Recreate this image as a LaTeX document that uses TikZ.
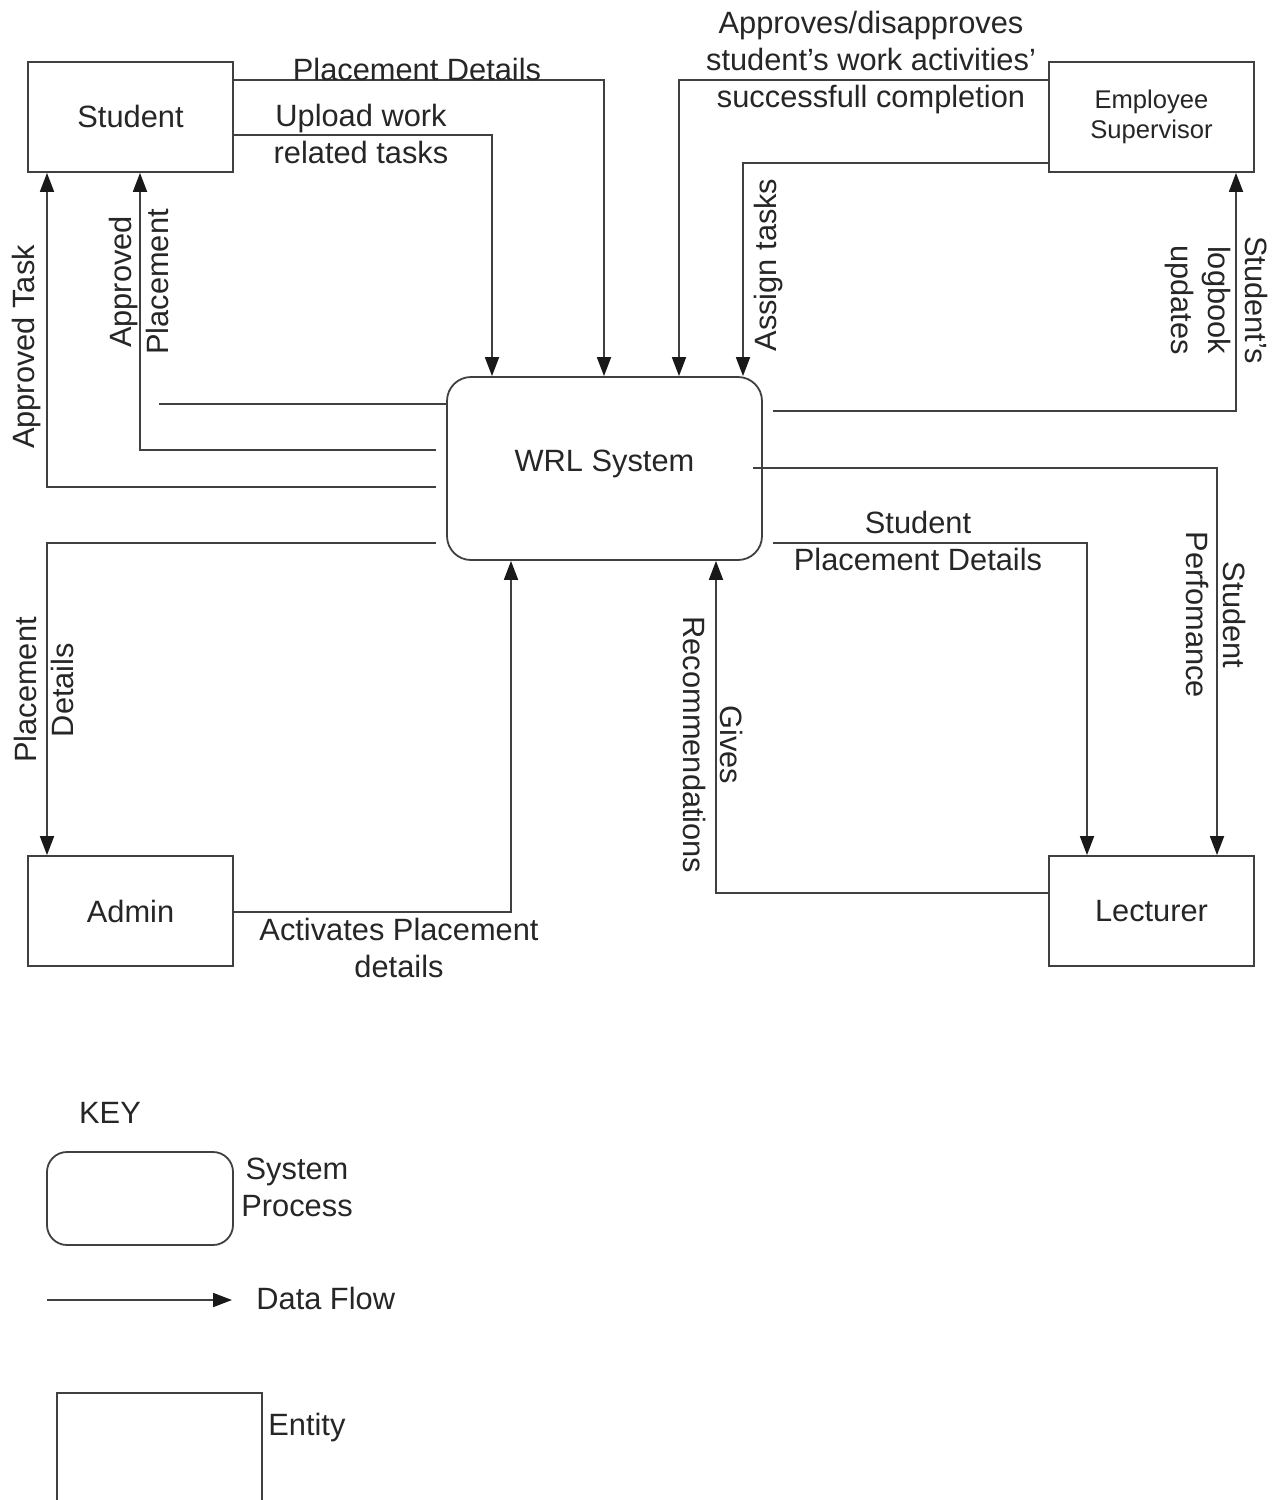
\documentclass[tikz,border=0pt]{standalone}
\usepackage{fontspec}
\setmainfont{Liberation Sans}
\usetikzlibrary{arrows.meta}
\begin{document}
\begin{tikzpicture}[x=0.5pt,y=-0.5pt,
  ent/.style={draw=black!75, line width=0.9pt, minimum width=102.5pt, minimum height=55pt, inner sep=0pt, text=black!85, font=\fontsize{15.4}{18.5}\selectfont, align=center},
  proc/.style={draw=black!75, line width=0.9pt, rounded corners=12pt, minimum width=157.5pt, minimum height=91.5pt, inner sep=0pt, text=black!85, font=\fontsize{15.4}{18.5}\selectfont},
  flow/.style={draw=black!75, line width=0.9pt, -{Triangle[length=9.5pt,width=7pt,color=black!90]}},
  ln/.style={draw=black!75, line width=0.9pt},
  lbl/.style={text=black!85, font=\fontsize{15.4}{18.5}\selectfont, align=center, inner sep=0pt},
]
\clip (0,0) rectangle (1278,1500);
\fill[white] (0,0) rectangle (1278,1500);

% entities and process
\node[ent] (student) at (130.5,117) {\raisebox{1pt}{Student}};
\node[ent, font=\fontsize{12.8}{15}\selectfont] (emp) at (1151.5,117) {Employee\\Supervisor};
\node[ent] (admin) at (130.5,911) {Admin};
\node[ent] (lect) at (1151.5,911) {Lecturer};
\node[proc] (wrl) at (604.5,468.5) {\raisebox{8pt}{WRL System}};

% flows from student
\draw[flow] (student.east |- 0,80) -| (wrl.north -| 604,0);
\node[lbl] (l1) at (417,69) {Placement Details};
\draw[flow] (student.east |- 0,135) -| (wrl.north -| 492,0);
\node[lbl] (l2) at (361,134) {Upload work\\related tasks};

% flows from employee supervisor
\draw[flow] (emp.west |- 0,80) -| (wrl.north -| 679,0);
\node[lbl] (l3) at (871,63) {Approves/disapproves\\student’s work activities’\\successfull completion};
\draw[flow] (emp.west |- 0,163) -| (wrl.north -| 743,0);
\node[lbl, rotate=90] (l4) at (769,265) {Assign tasks};
\draw[flow] ([xshift=5pt]wrl.east |- 0,411) -| (emp.south -| 1236,0);
\node[lbl, rotate=-90] (l5) at (1216,300) {Student’s\\logbook\\updates};

% flows to student
\draw[ln] (159,404) -- (wrl.west |- 0,404);
\draw[flow] ([xshift=-5pt]wrl.west |- 0,450) -| (student.south -| 140,0);
\node[lbl, rotate=90] (l6) at (138.5,282) {Approved\\Placement};
\draw[flow] ([xshift=-5pt]wrl.west |- 0,487) -| (student.south -| 47,0);
\node[lbl, rotate=90] (l7) at (27,347) {Approved Task};

% flows to/from admin
\draw[flow] ([xshift=-5pt]wrl.west |- 0,543) -| (admin.north -| 47,0);
\node[lbl, rotate=90] (l8) at (44,690) {Placement\\Details};
\draw[flow] (admin.east |- 0,912) -| (wrl.south -| 511,0);
\node[lbl] (l9) at (399,947.5) {Activates Placement\\details};

% flows to/from lecturer
\draw[flow] ([xshift=-5pt]wrl.east |- 0,468) -| (lect.north -| 1217,0);
\node[lbl, rotate=-90] (l10) at (1215.5,615) {Student\\Perfomance};
\draw[flow] ([xshift=5pt]wrl.east |- 0,543) -| (lect.north -| 1087,0);
\node[lbl] (l11) at (918,540.5) {Student\\Placement Details};
\draw[flow] (lect.west |- 0,893) -| (wrl.south -| 716,0);
\node[lbl, rotate=-90] (l12) at (713,745) {Gives\\Recommendations};

% key
\node[lbl, anchor=center] (key) at (110,1113) {KEY};
\node[draw=black!75, line width=0.9pt, rounded corners=10pt, minimum width=93pt, minimum height=46.5pt, inner sep=0pt] (kproc) at (140,1198.5) {};
\node[lbl, anchor=west] (kproct) at (241,1187) {System\\Process};
\coordinate (kf1) at (47,1300);
\coordinate (kf2) at (232,1300);
\draw[flow] (kf1) -- (kf2);
\node[lbl, anchor=west] (kflow) at (256,1298) {Data Flow};
\node[draw=black!75, line width=0.9pt, minimum width=102.5pt, minimum height=70pt, inner sep=0pt, anchor=north west] (kent) at (56,1392) {};
\node[lbl, anchor=west] (kentt) at (268,1428) {Entity};
\end{tikzpicture}
\end{document}
